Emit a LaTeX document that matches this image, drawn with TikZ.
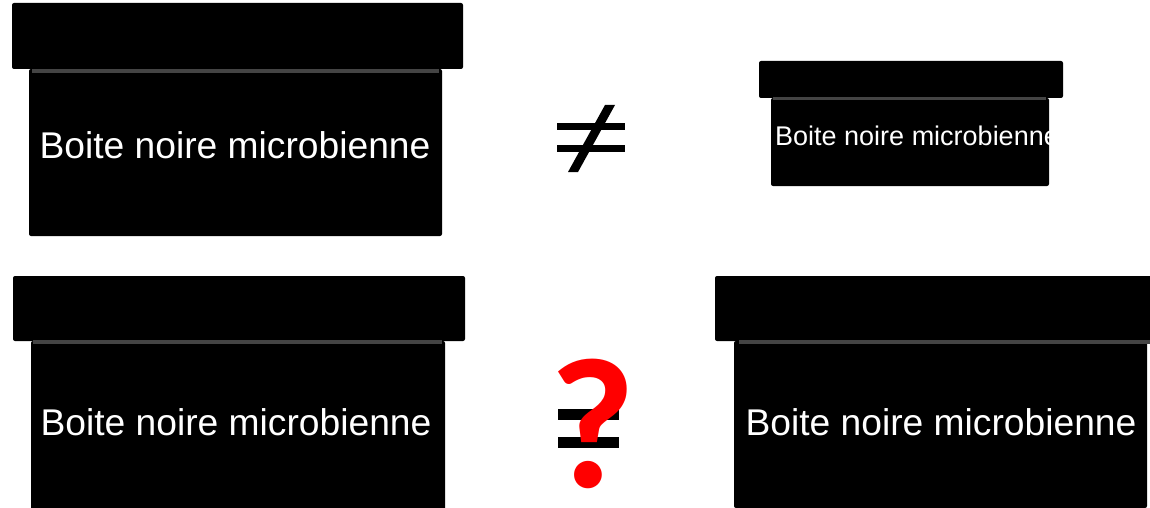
\documentclass[tikz,border=0pt]{standalone}
\usepackage{fontspec}
\setmainfont{Liberation Sans}
\newfontfamily\qfont{Carlito}
\definecolor{rimgray}{HTML}{444444}
\definecolor{qred}{HTML}{FF0000}
\begin{document}
\begin{tikzpicture}[x=1pt,y=-1pt,
  lid/.style={fill=black, rounded corners=2pt},
  body/.style={fill=black, rounded corners=2pt},
  rim/.style={draw=rimgray, line width=3.5pt},
  boxlabel/.style={text=white, inner sep=0pt, anchor=base,
    font=\fontsize{37.2}{42}\selectfont},
  smalllabel/.style={text=white, inner sep=0pt, anchor=base west,
    font=\fontsize{27}{32}\selectfont},
  bar/.style={fill=black}]
\useasboundingbox (0,0) rectangle (1150,508);

% top-left box
\fill[body] (29,69) rectangle (442,236);
\fill[lid] (12,3) rectangle (463,69);
\draw[rim] (32,71) -- (439,71);
\node[boxlabel] (t1) at (235,158) {Boite noire microbienne};

% not-equal sign
\fill[bar] (557,123) rectangle (625,130);
\fill[bar] (557,145) rectangle (625,152);
\fill[bar] (605,105) -- (615,105) -- (578,172) -- (568,172) -- cycle;

% top-right small box, label cut at the body edge
\fill[body] (771,98) rectangle (1049,186);
\fill[lid] (759,61) rectangle (1063,98);
\draw[rim, line width=3pt] (773,99) -- (1046,99);
\begin{scope}
  \clip (771,98) rectangle (1049,186);
  \node[smalllabel] (t2) at (775,145) {Boite noire microbienne};
\end{scope}

% bottom-left box
\fill[body] (31,341) rectangle (445,510);
\fill[lid] (13,276) rectangle (465,341);
\draw[rim] (33,342) -- (442,342);
\node[boxlabel] (t3) at (236,435) {Boite noire microbienne};

% equals sign under the question mark
\fill[bar] (558,409) rectangle (619,420);
\fill[bar] (558,437) rectangle (619,448);
\node[text=qred, inner sep=0pt, anchor=base,
  font=\qfont\bfseries\fontsize{186}{190}\selectfont] (q) at (593,487) {?};

% bottom-right box
\fill[body] (734,341) rectangle (1147,508);
\fill[lid] (715,276) rectangle (1175,341);
\draw[rim] (739,342) -- (1160,342);
\node[boxlabel] (t4) at (941,435) {Boite noire microbienne};
\end{tikzpicture}
\end{document}
